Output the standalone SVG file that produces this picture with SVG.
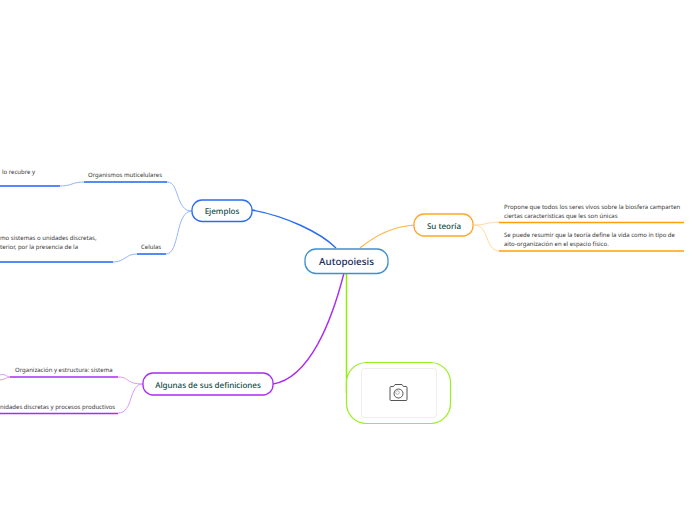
<svg xmlns="http://www.w3.org/2000/svg" width="696" height="520" viewBox="0 0 696 520">
<style>
text{font-family:"Noto Sans","Open Sans","DejaVu Sans",sans-serif;text-rendering:geometricPrecision}
.t{font-size:6px;fill:#333}
.m{font-size:8px;font-weight:500;fill:#0f4a45;text-anchor:middle}
.n{fill:#fff;stroke-width:1.300}
.c{fill:none}
.b{stroke:#1f63f5;stroke-width:1.500}
.bl{stroke:#8aaeff;stroke-width:.9}
.o{stroke:#ff9f0a;stroke-width:1.500}
.ol{stroke:#ffd699;stroke-width:.9}
.p{stroke:#a92cf5;stroke-width:1.500}
.pl{stroke:#d48cff;stroke-width:.9}
</style>
<rect width="696" height="520" fill="#fff"/>
<g id="connectors" class="c">
<path d="M336 248C320 232 285 216 252 210" stroke="#2a6cf0" stroke-width="1.4"/>
<path d="M360 248C372 238 390 227 414 225" stroke="#ffb347" stroke-width="1.2"/>
<path d="M344 273C332 320 310 378 273 384" stroke="#a92cf5" stroke-width="1.4"/>
<path d="M346.500 273V393" stroke="#8cf000" stroke-width="1.5"/>
<path class="bl" d="M192 211C175 211 180 182 167 182"/>
<path class="bl" d="M192 211C175 211 180 254 166 254"/>
<path class="bl" d="M84 182C72 182 72 186 60 186"/>
<path class="bl" d="M137 254C125 254 125 262 113 262"/>
<path class="ol" d="M474 225C486 225 488 222 500 222"/>
<path class="ol" d="M474 225C490 225 484 251 500 251"/>
<path class="pl" d="M143 384C125 384 130 377 118 377"/>
<path class="pl" d="M143 384C128 384 134 413 118 413"/>
<path class="pl" d="M10 377C7 377 4 373 0 375M10 377C7 377 4 380 0 380"/>
<path class="b" d="M84 182H167"/>
<path class="b" d="M137 254H166"/>
<path class="b" d="M0 186H60"/>
<path class="b" d="M0 262H113"/>
<path class="o" d="M499 222.500H684"/>
<path class="o" d="M499 251H684"/>
<path class="p" d="M10 377H118"/>
<path class="p" d="M0 413.500H118"/>
</g>
<g id="root"><rect class="n" x="305" y="249" width="83" height="24.500" rx="11" stroke="#3f8fd0"/><text x="346.500" y="265" text-anchor="middle" font-size="9.800" font-weight="500" fill="#14295a">Autopoiesis</text></g>
<g id="ejemplos"><rect class="n" x="192" y="200" width="60" height="21.500" rx="10" stroke="#2a6cf0"/><text class="m" x="222" y="214">Ejemplos</text></g>
<g id="su-teoria"><rect class="n" x="414" y="214" width="59" height="22" rx="10" stroke="#ffa726"/><text class="m" x="444" y="228.500">Su teoría</text></g>
<g id="definiciones"><rect class="n" x="143" y="373" width="130" height="22" rx="10" stroke="#a92cf5"/><text class="m" x="208" y="387.500">Algunas de sus definiciones</text></g>
<g id="organismos"><text class="t" x="88" y="177">Organismos muticelulares</text></g>
<g id="recubre"><text class="t" x="2" y="173.500">lo recubre y</text></g>
<g id="celulas"><text class="t" x="141" y="249">Celulas</text></g>
<g id="sistemas"><text class="t" x="0" y="240">mo sistemas o unidades discretas,</text><text class="t" x="0" y="249">terior, por la presencia de la</text></g>
<g id="organizacion"><text class="t" x="15" y="372">Organización y estructura: sistema</text></g>
<g id="unidades"><text class="t" x="0" y="409">nidades discretas y procesos productivos</text></g>
<g id="propone"><text class="t" x="504" y="209">Propone que todos los seres vivos sobre la biosfera camparten</text><text class="t" x="504" y="217.500">ciertas caracteristicas que les son únicas</text></g>
<g id="resumir"><text class="t" x="504" y="237">Se puede resumir que la teoría define la vida como in tipo de</text><text class="t" x="504" y="246">aito-organización en el espacio físico.</text></g>
<g id="imagen">
<rect x="346.500" y="362.500" width="104" height="61" rx="20" fill="#fff" stroke="#96f01e" stroke-width="1.200"/>
<rect x="361.500" y="368.500" width="75" height="49" rx="3" fill="#fff" stroke="#eee"/>
<path d="M390 387.500a1 1 0 0 1 1-1h2.500l1.500-2h7l1.500 2h2.500a1 1 0 0 1 1 1v12a1 1 0 0 1-1 1h-15a1 1 0 0 1-1-1z" fill="none" stroke="#555" stroke-width="1"/>
<circle cx="398.500" cy="393.500" r="4.500" fill="none" stroke="#555" stroke-width="1"/>
<circle cx="397.500" cy="392.500" r="1.800" fill="none" stroke="#888" stroke-width=".6"/>
</g>
</svg>
